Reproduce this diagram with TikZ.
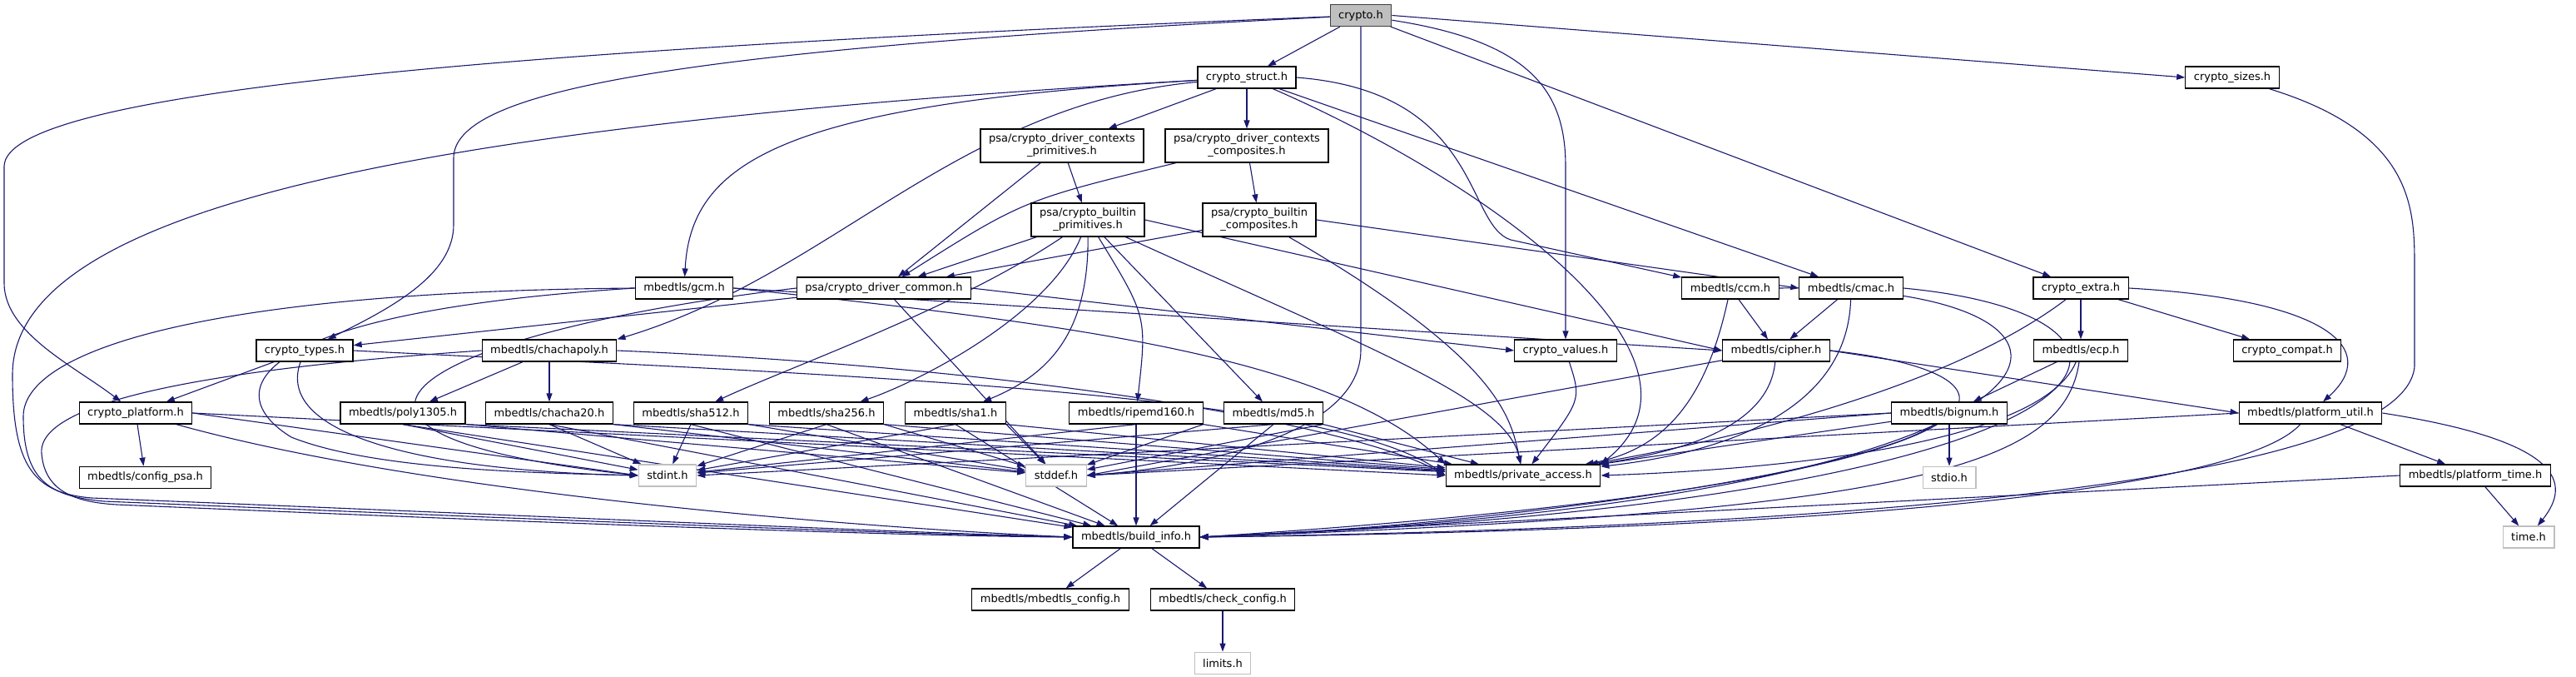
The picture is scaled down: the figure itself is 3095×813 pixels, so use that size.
\documentclass[tikz,border=0pt]{standalone}
\usepackage{fontspec}
\setmainfont{DejaVu Sans}
\usepackage{xcolor}
\usetikzlibrary{arrows.meta, positioning, backgrounds}
\definecolor{cEdge}{RGB}{25,25,112}
\definecolor{cSys}{RGB}{191,191,191}
\definecolor{cRoot}{RGB}{191,191,191}
\definecolor{cRootLine}{RGB}{64,64,64}
\tikzset{
    hdr/.style     ={rectangle, draw=black, fill=white, line width=1.2pt, minimum height=26pt, inner xsep=10pt, inner ysep=2pt, text centered, align=center},
    hdrtwo/.style  ={hdr, minimum height=40pt},
    syshdr/.style  ={hdr, draw=cSys},
    roothdr/.style ={hdr, draw=cRootLine, fill=cRoot},
    dep/.style     ={-{Triangle[length=10pt, width=7pt]}, draw=cEdge, line width=1.1pt},
}
\begin{document}
\begin{tikzpicture}[x=1pt, y=-1pt, font=\fontsize{13}{15}\selectfont]
                \useasboundingbox (0,0) rectangle (3095,813);
                % top part
                \node[roothdr] (crypto) at (1635,18.5) {crypto.h};
                \node[hdr] (cstruct) at (1498,93) {crypto\_struct.h};
                \node[hdr] (sizes) at (2682,93) {crypto\_sizes.h};
                \node[hdrtwo] (ctxprim) at (1276,175) {psa/crypto\_driver\_contexts\\\_primitives.h};
                \node[hdrtwo] (ctxcomp) at (1498,175) {psa/crypto\_driver\_contexts\\\_composites.h};
                \node[hdrtwo] (bprim) at (1307,264) {psa/crypto\_builtin\\\_primitives.h};
                \node[hdrtwo] (bcomp) at (1513,264) {psa/crypto\_builtin\\\_composites.h};
                % middle rows
                \node[hdr] (gcm) at (822,346) {mbedtls/gcm.h};
                \node[hdr] (drvcommon) at (1062,346) {psa/crypto\_driver\_common.h};
                \node[hdr] (ccm) at (2079,346) {mbedtls/ccm.h};
                \node[hdr] (cmac) at (2224,346) {mbedtls/cmac.h};
                \node[hdr] (extra) at (2500,346) {crypto\_extra.h};
                \node[hdr] (types) at (366,421) {crypto\_types.h};
                \node[hdr] (chachapoly) at (660,421) {mbedtls/chachapoly.h};
                \node[hdr] (values) at (1881,421) {crypto\_values.h};
                \node[hdr] (cipher) at (2134,421) {mbedtls/cipher.h};
                \node[hdr] (ecp) at (2500,421) {mbedtls/ecp.h};
                \node[hdr] (compat) at (2748,421) {crypto\_compat.h};
                \node[hdr] (platform) at (163,496) {crypto\_platform.h};
                \node[hdr] (poly1305) at (484,496) {mbedtls/poly1305.h};
                \node[hdr] (chacha20) at (660,496) {mbedtls/chacha20.h};
                \node[hdr] (sha512) at (830,496) {mbedtls/sha512.h};
                \node[hdr] (sha256) at (993,496) {mbedtls/sha256.h};
                \node[hdr] (sha1) at (1148,496) {mbedtls/sha1.h};
                \node[hdr] (ripemd160) at (1365,496) {mbedtls/ripemd160.h};
                \node[hdr] (md5) at (1530,496) {mbedtls/md5.h};
                \node[hdr] (bignum) at (2342,496) {mbedtls/bignum.h};
                \node[hdr] (platformutil) at (2776,496) {mbedtls/platform\_util.h};
                % bottom rows
                \node[hdr, below right=50pt and 0pt of platform.south west] (configpsa) {mbedtls/config\_psa.h};
                \node[syshdr] (stdint) at (802,571) {stdint.h};
                \node[syshdr] (stddef) at (1269,571) {stddef.h};
                \node[hdr] (privacc) at (1830,571) {mbedtls/private\_access.h};
                \node[syshdr, below=50pt of bignum] (stdio) {stdio.h};
                \node[hdr] (platformtime) at (2974,571) {mbedtls/platform\_time.h};
                \node[hdr] (buildinfo) at (1365,645) {mbedtls/build\_info.h};
                \node[syshdr] (time) at (3038,645) {time.h};
                \node[hdr] (mbconfig) at (1262,720) {mbedtls/mbedtls\_config.h};
                \node[hdr] (checkconfig) at (1469,720) {mbedtls/check\_config.h};
                \node[syshdr, below=49pt of checkconfig] (limits) {limits.h};

                \begin{scope}[on background layer]
                % crypto.h
                \draw[dep](crypto)--(cstruct);
                \draw[dep](crypto.east)--(sizes.west);
                \draw[dep](crypto)--(extra);
                \draw[dep](crypto) .. controls (1840,50) and (1881,110) .. (1881,200) -- (values);
                \draw[dep](crypto.south) -- (1635,420) .. controls (1635,520) and (1450,560) .. (stddef.east);
                \draw[dep](crypto) .. controls (800,60) and (545,110) .. (545,190) -- (545,270) .. controls (545,330) and (470,370) .. (types);
                \draw[dep](crypto) .. controls (600,60) and (5,110) .. (5,200) -- (5,340) .. controls (5,400) and (90,440) .. (platform);
                % crypto_struct.h
                \draw[dep](cstruct)--(ctxprim);
                \draw[dep](cstruct)--(ctxcomp);
                \draw[dep](cstruct) .. controls (950,125) and (830,190) .. (gcm);
                \draw[dep](cstruct) .. controls (1150,125) and (1000,330) .. (chachapoly.north east);
                \draw[dep](cstruct) .. controls (500,150) and (15,250) .. (15,450) .. controls (15,560) and (40,592) .. (110,598) .. controls (700,622) and (1100,640) .. (buildinfo.west);
                \draw[dep](cstruct) .. controls (1790,220) and (2080,430) .. (privacc.north east);
                \draw[dep](cstruct.east) .. controls (1780,110) and (1760,270) .. (1815,288) -- (ccm);
                \draw[dep](cstruct)--(cmac);
                % driver contexts and builtin headers
                \draw[dep](ctxprim)--(drvcommon);
                \draw[dep](ctxprim)--(bprim);
                \draw[dep](ctxcomp) .. controls (1230,240) .. (drvcommon);
                \draw[dep](ctxcomp)--(bcomp);
                \draw[dep](bcomp)--(drvcommon);
                \draw[dep](bcomp) .. controls (1800,430) and (1815,500) .. (privacc);
                \draw[dep](bcomp.east)--(cmac.west);
                \draw[dep](bprim)--(drvcommon);
                \draw[dep](bprim) .. controls (1150,370) and (950,440) .. (sha512);
                \draw[dep](bprim) .. controls (1260,380) and (1100,460) .. (sha256);
                \draw[dep](bprim) .. controls (1308,400) and (1260,450) .. (sha1);
                \draw[dep](bprim) .. controls (1378,380) .. (ripemd160);
                \draw[dep](bprim)--(md5);
                \draw[dep](bprim) .. controls (1650,420) and (1810,480) .. (privacc);
                \draw[dep](bprim.east)--(cipher.west);
                \draw[dep](drvcommon)--(types);
                \draw[dep](drvcommon.west) .. controls (500,400) and (300,520) .. (stdint.west);
                \draw[dep](drvcommon)--(stddef);
                \draw[dep](drvcommon.east)--(values.west);
                % gcm, chachapoly, types, platform
                \draw[dep](gcm.east)--(cipher.west);
                \draw[dep](gcm.east) .. controls (1300,390) and (1600,430) .. (privacc.north west);
                \draw[dep](gcm.west) .. controls (300,375) and (260,470) .. (350,525) .. controls (450,565) and (650,568) .. (stdint.west);
                \draw[dep](gcm.west) .. controls (250,350) and (28,420) .. (28,500) .. controls (28,578) and (60,596) .. (125,602) .. controls (700,626) and (1100,642) .. (buildinfo.west);
                \draw[dep](chachapoly)--(poly1305);
                \draw[dep](chachapoly)--(chacha20);
                \draw[dep](chachapoly.east) .. controls (1300,445) and (1650,520) .. (privacc.west);
                \draw[dep](chachapoly.west) .. controls (150,450) and (45,500) .. (50,545) .. controls (54,590) and (90,603) .. (140,606) .. controls (700,630) and (1100,644) .. (buildinfo.west);
                \draw[dep](types)--(platform);
                \draw[dep](types) .. controls (330,520) and (500,565) .. (stdint.west);
                \draw[dep](types.east) .. controls (1000,450) and (1600,470) .. (privacc.west);
                \draw[dep](platform)--(configpsa);
                \draw[dep](platform.east)--(stdint.west);
                \draw[dep](platform.east)--(privacc.west);
                \draw[dep](platform) .. controls (500,590) and (1000,632) .. (buildinfo.west);
                % hash and stream cipher headers
                \foreach \m in {poly1305,chacha20,sha512,sha256,sha1,ripemd160,md5}{
                    \draw[dep](\m.south)--(stdint);
                    \draw[dep](\m.south east)--(stddef);
                    \draw[dep](\m.south east)--(privacc);
                    \draw[dep](\m.south)--(buildinfo);
                }
                % right part
                \draw[dep](ccm)--(cipher);
                \draw[dep](ccm) .. controls (2050,480) and (2000,540) .. (privacc);
                \draw[dep](ccm.east) .. controls (2600,340) and (2560,600) .. (buildinfo.east);
                \draw[dep](cmac)--(cipher);
                \draw[dep](cmac) .. controls (2220,480) and (2100,540) .. (privacc);
                \draw[dep](cmac.east) .. controls (2650,380) and (2600,600) .. (buildinfo.east);
                \draw[dep](cipher)--(stddef.east);
                \draw[dep](cipher) .. controls (2125,520) and (2000,545) .. (privacc);
                \draw[dep](cipher.east)--(platformutil.west);
                \draw[dep](cipher.east) .. controls (2480,450) and (2460,580) .. (buildinfo.east);
                \draw[dep](extra)--(ecp);
                \draw[dep](extra)--(compat);
                \draw[dep](extra.east) .. controls (2800,360) and (2860,420) .. (platformutil);
                \draw[dep](extra) .. controls (2350,460) and (2100,525) .. (privacc);
                \draw[dep](ecp)--(bignum);
                \draw[dep](ecp) .. controls (2450,540) and (2100,565) .. (privacc.east);
                \draw[dep](ecp) .. controls (2480,560) and (2300,615) .. (buildinfo.east);
                \draw[dep](bignum)--(stdio);
                \draw[dep](bignum.west)--(stddef.east);
                \draw[dep](bignum.west)--(stdint.east);
                \draw[dep](bignum)--(privacc);
                \draw[dep](bignum) .. controls (2250,565) and (1800,632) .. (buildinfo.east);
                \draw[dep](platformutil.west)--(stddef.east);
                \draw[dep](platformutil) .. controls (2700,580) and (2300,635) .. (buildinfo.east);
                \draw[dep](platformutil)--(platformtime);
                \draw[dep](platformutil.east) .. controls (3080,530) and (3090,580) .. (time);
                \draw[dep](platformtime)--(time);
                \draw[dep](platformtime.west)--(buildinfo.east);
                \draw[dep](sizes) .. controls (2900,160) and (2901,250) .. (2901,320) -- (2901,440) .. controls (2890,570) and (2300,632) .. (buildinfo.east);
                \draw[dep](values) .. controls (1900,480) .. (privacc);
                % build_info.h
                \draw[dep](buildinfo)--(mbconfig);
                \draw[dep](buildinfo)--(checkconfig);
                \draw[dep](checkconfig)--(limits);
                \end{scope}
\end{tikzpicture}
\end{document}
